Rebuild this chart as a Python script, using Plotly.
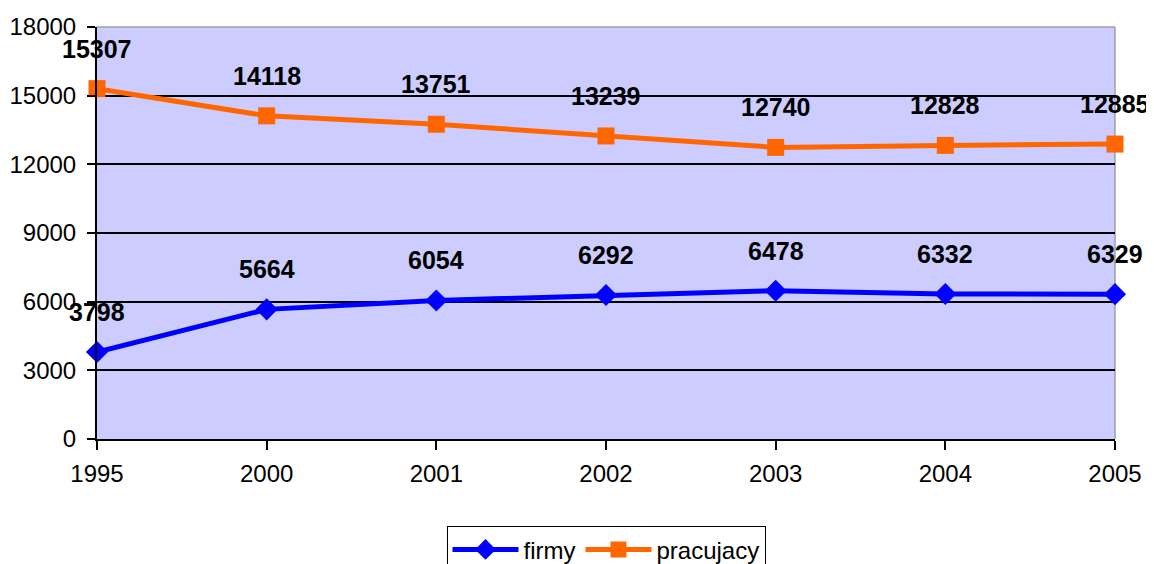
import plotly.graph_objects as go

years = ["1995", "2000", "2001", "2002", "2003", "2004", "2005"]
firmy = [3798, 5664, 6054, 6292, 6478, 6332, 6329]
pracujacy = [15307, 14118, 13751, 13239, 12740, 12828, 12885]
y_ticks = [0, 3000, 6000, 9000, 12000, 15000, 18000]

FONT = "Liberation Sans, Arial, sans-serif"
xpos = list(range(len(years)))

fig = go.Figure()
fig.add_trace(go.Scatter(
    x=xpos, y=firmy, name="firmy", mode="lines+markers",
    line=dict(color="#0000FF", width=5),
    marker=dict(symbol="diamond", size=17, color="#0000FF"),
    cliponaxis=False,
))
fig.add_trace(go.Scatter(
    x=xpos, y=pracujacy, name="pracujacy", mode="lines+markers",
    line=dict(color="#FF6600", width=5),
    marker=dict(symbol="square", size=17, color="#FF6600"),
    cliponaxis=False,
))

annotations = []
for series in (firmy, pracujacy):
    for xv, yv in zip(xpos, series):
        annotations.append(dict(
            x=xv, y=yv, xref="x", yref="y", text="<b>%d</b>" % yv,
            showarrow=False, yshift=40,
            font=dict(family=FONT, size=25, color="black"),
        ))

fig.update_layout(
    width=1154, height=564,
    margin=dict(l=89, r=47, t=19, b=133, autoexpand=False),
    paper_bgcolor="white",
    plot_bgcolor="#CCCCFF",
    font=dict(family=FONT, size=23, color="black"),
    showlegend=True,
    legend=dict(
        orientation="h", x=0.5, xanchor="center", y=-0.212, yanchor="top",
        bordercolor="black", borderwidth=1, font=dict(size=24),
        itemwidth=66,
    ),
    annotations=annotations,
    shapes=[
        dict(type="line", xref="paper", yref="paper", x0=0, x1=1, y0=1, y1=1,
             line=dict(color="#A0A0A0", width=1.5), layer="below"),
        dict(type="line", xref="paper", yref="paper", x0=1, x1=1, y0=0, y1=1,
             line=dict(color="#A0A0A0", width=1.5), layer="below"),
    ],
)
fig.update_xaxes(
    range=[0, len(years) - 1], tickvals=xpos, ticktext=years, showgrid=False,
    zeroline=False, automargin=False,
    showline=True, linecolor="black", linewidth=2,
    ticks="outside", ticklen=9, tickcolor="black", tickwidth=2,
    tickfont=dict(size=24), ticklabelstandoff=3,
)
fig.update_yaxes(
    range=[0, 18000], tickvals=y_ticks, ticktext=[str(v) for v in y_ticks],
    showgrid=True, gridcolor="black", gridwidth=1.5, automargin=False,
    showline=True, linecolor="black", linewidth=2, zeroline=False,
    ticks="outside", ticklen=8, tickcolor="black", tickwidth=2,
    tickfont=dict(size=24), ticklabelstandoff=6,
)

fig.write_html("out.html")
